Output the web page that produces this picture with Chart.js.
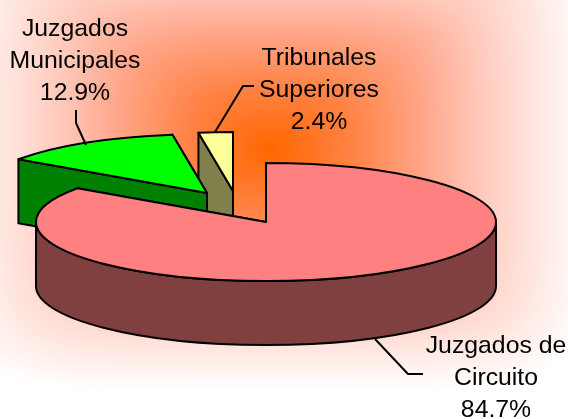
<!DOCTYPE html>
<html>
<head>
<meta charset="utf-8">
<style>
  html, body { margin: 0; padding: 0; background: #fff; overflow: hidden; }
  canvas { display: block; }
</style>
<script src="https://cdn.jsdelivr.net/npm/chart.js@4"></script>
</head>
<body>
<canvas id="myChart" width="568" height="419"></canvas>
<script>
const categories = [['Juzgados de', 'Circuito'], ['Juzgados', 'Municipales'], ['Tribunales', 'Superiores']];
const shares = [84.7, 12.9, 2.4];
const topColors = ['#ff8080', '#00ff00', '#ffff99'];
const wallColors = ['#804040', '#008000', '#80804d'];

// pie look: flattening, wall height, and how far excel pulled each slice (screen px)
const SQUASH = 59 / 230;
const DEPTH = 64;
const sliceShift = [[0, 0], [-59, -29], [-33, -31]];
const drawOrder = [2, 1, 0];

// label centre x, first line y, then the leader line
const labelBoxes = [
  { x: 496, y: 346, leader: [[375, 339], [408, 374], [423, 374]] },
  { x: 75, y: 29.5, leader: [[76, 110], [76, 123], [86, 145]] },
  { x: 319, y: 58.5, leader: [[254, 86], [243, 86], [215, 132]] },
];

function paintBackground(ctx, w, h) {
  // round near the hot spot, box shaped towards the edges
  const cx = 270, cy = 148, halfW = 320, halfH = 242;
  const stops = [[0, [255, 102, 0]], [0.25, [255, 130, 68]], [0.5, [255, 170, 144]], [0.65, [255, 200, 186]], [0.8, [255, 226, 218]], [1, [255, 255, 255]]];
  const img = ctx.createImageData(w, h);
  for (let y = 0; y < h; y++) {
    for (let x = 0; x < w; x++) {
      const dx = Math.abs(x - cx) / halfW, dy = Math.abs(y - cy) / halfH;
      const power = 2 + 4 * Math.min(Math.hypot(dx, dy), 1);
      const t = Math.min(Math.pow(Math.pow(dx, power) + Math.pow(dy, power), 1 / power), 1);
      let k = 1;
      while (k < stops.length - 1 && stops[k][0] < t) k++;
      const f = (t - stops[k - 1][0]) / (stops[k][0] - stops[k - 1][0]);
      const p = (y * w + x) * 4;
      for (let c = 0; c < 3; c++) {
        img.data[p + c] = stops[k - 1][1][c] + (stops[k][1][c] - stops[k - 1][1][c]) * f;
      }
      img.data[p + 3] = 255;
    }
  }
  ctx.putImageData(img, 0, 0);
}

function screenY(arc, pivot) {
  return pivot + (arc.y - pivot) * SQUASH;
}

function drawWalls(ctx, arc, color, pivot) {
  const X = arc.x, Y = screenY(arc, pivot), R = arc.outerRadius, r = R * SQUASH;
  ctx.fillStyle = color;
  ctx.strokeStyle = '#000';
  ctx.lineWidth = 2;
  ctx.lineJoin = 'round';
  // cut faces, far one first
  [arc.endAngle, arc.startAngle].forEach((a) => {
    const ex = X + R * Math.cos(a), ey = Y + r * Math.sin(a);
    ctx.beginPath();
    ctx.moveTo(X, Y);
    ctx.lineTo(ex, ey);
    ctx.lineTo(ex, ey + DEPTH);
    ctx.lineTo(X, Y + DEPTH);
    ctx.closePath();
    ctx.fill();
    ctx.stroke();
  });
  // rim, only the part facing the viewer
  const a0 = Math.max(arc.startAngle, 0), a1 = Math.min(arc.endAngle, Math.PI);
  if (a1 > a0) {
    ctx.beginPath();
    ctx.ellipse(X, Y, R, r, 0, a0, a1);
    ctx.ellipse(X, Y + DEPTH, R, r, 0, a1, a0, true);
    ctx.closePath();
    ctx.fill();
    ctx.stroke();
  }
}

const pie3d = {
  id: 'pie3d',
  beforeDraw(chart) {
    paintBackground(chart.ctx, chart.width, chart.height);
  },
  afterDatasetsUpdate(chart) {
    chart.getDatasetMeta(0).data.forEach((arc, i) => {
      arc.x += sliceShift[i][0];
      arc.y += sliceShift[i][1] / SQUASH;
    });
  },
  beforeDatasetDraw(chart, args) {
    const ctx = chart.ctx;
    const area = chart.chartArea;
    const pivot = (area.top + area.bottom) / 2;
    drawOrder.forEach((i) => {
      const arc = args.meta.data[i];
      drawWalls(ctx, arc, wallColors[i], pivot);
      ctx.save();
      ctx.translate(0, pivot);
      ctx.scale(1, SQUASH);
      ctx.translate(0, -pivot);
      arc.draw(ctx);
      ctx.beginPath();
      ctx.moveTo(arc.x, arc.y);
      ctx.arc(arc.x, arc.y, arc.outerRadius, arc.startAngle, arc.endAngle);
      ctx.closePath();
      ctx.restore();
      // stroke after restore so the line stays even all the way round
      ctx.strokeStyle = '#000';
      ctx.lineWidth = 2;
      ctx.lineJoin = 'round';
      ctx.stroke();
    });
    return false;
  },
  afterDraw(chart) {
    const ctx = chart.ctx;
    ctx.save();
    ctx.font = '24.8px "Liberation Sans", Arial, sans-serif';
    ctx.textAlign = 'center';
    ctx.textBaseline = 'middle';
    labelBoxes.forEach((box, i) => {
      ctx.strokeStyle = '#000';
      ctx.lineWidth = 2;
      ctx.beginPath();
      box.leader.forEach((p, k) => (k ? ctx.lineTo(p[0], p[1]) : ctx.moveTo(p[0], p[1])));
      ctx.stroke();
      ctx.fillStyle = '#000';
      const lines = categories[i].concat(shares[i].toFixed(1) + '%');
      lines.forEach((t, k) => ctx.fillText(t, box.x, box.y + k * 32));
    });
    ctx.restore();
  },
};

new Chart(document.getElementById('myChart'), {
  type: 'pie',
  data: {
    labels: categories,
    datasets: [{ data: shares, backgroundColor: topColors, borderWidth: 0 }],
  },
  options: {
    responsive: false,
    animation: false,
    radius: 230,
    layout: { padding: { left: 0, right: 36, top: 25, bottom: 0 } },
    plugins: { legend: { display: false }, tooltip: { enabled: false } },
  },
  plugins: [pie3d],
});
</script>
</body>
</html>
